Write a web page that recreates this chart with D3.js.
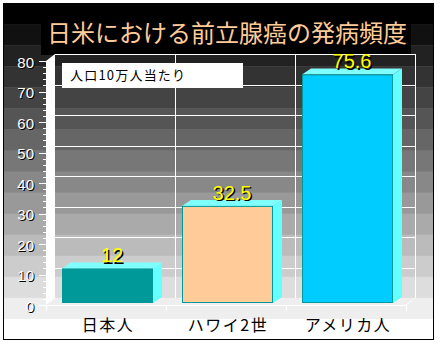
<!DOCTYPE html>
<html><head><meta charset="utf-8">
<script src="https://cdn.jsdelivr.net/npm/d3@7"></script>
<style>body{margin:0;background:#fff}svg{display:block}</style>
</head><body>
<script>
const title = "日米における前立腺癌の発病頻度";
const note = "人口10万人当たり";
const categories = ["日本人", "ハワイ2世", "アメリカ人"];
const values = [12, 32.5, 75.6];
const valueLabels = ["12", "32.5", "75.6"];
const barColors = ["#009999", "#FFCC99", "#00CCFF"];
const yTicks = [0, 10, 20, 30, 40, 50, 60, 70, 80];

const W = 446, H = 353;
const svg = d3.select("body").append("svg").attr("width", W).attr("height", H);

// background bands
const bands = d3.range(16);
const bandY = d3.scaleLinear().domain([0, 16]).range([3, 340]);
svg.selectAll("rect.band").data(bands).join("rect")
  .attr("x", 3).attr("width", 431)
  .attr("y", d => bandY(d)).attr("height", d => bandY(d + 1) - bandY(d) + 0.5)
  .attr("fill", d => d3.rgb(d * 17, d * 17, d * 17));

const x = d3.scaleBand().domain(categories).range([46, 406]).padding(0);
const y = d3.scaleLinear().domain([0, 80]).range([305, 61]);
const wdx = 9, wdy = -7;   // wall depth
const bdx = 9, bdy = -6;   // bar depth

// title box
svg.append("rect").attr("x", 41).attr("y", 24).attr("width", 370).attr("height", 31).attr("fill", "#000");
svg.append("text").attr("x", 227).attr("y", 42).attr("text-anchor", "middle")
  .attr("font-family", "'Noto Sans CJK JP'").attr("font-size", 24).attr("fill", "#FFCC99").text(title);

// back wall grid
const g = svg.append("g").attr("stroke", "#fff").attr("stroke-width", 1).attr("shape-rendering", "crispEdges");
const backL = 46 + wdx, backR = 406 + wdx;
g.selectAll("line.hg").data(yTicks.filter(d => d > 0)).join("line")
  .attr("x1", backL).attr("x2", backR)
  .attr("y1", d => Math.round(y(d) + wdy) + 0.5).attr("y2", d => Math.round(y(d) + wdy) + 0.5);
g.selectAll("line.vg").data(categories.slice(1)).join("line")
  .attr("x1", d => x(d) + wdx + 0.5).attr("x2", d => x(d) + wdx + 0.5)
  .attr("y1", y(80) + wdy).attr("y2", y(0) + wdy);
g.append("line").attr("x1", backR + 0.5).attr("x2", backR + 0.5).attr("y1", y(80) + wdy).attr("y2", y(0) + wdy);

// left wall
svg.append("polygon").attr("fill", "#fff")
  .attr("points", [[46, y(80)], [46 + wdx, y(80) + wdy], [46 + wdx, y(0) + wdy], [46, y(0)]].map(p => p.join(",")).join(" "));

// floor lines
const f = svg.append("g").attr("stroke", "#fff").attr("fill", "none");
f.append("line").attr("x1", 46).attr("x2", 406).attr("y1", y(0) + 0.5).attr("y2", y(0) + 0.5).attr("shape-rendering", "crispEdges");
f.append("line").attr("x1", 406).attr("x2", 406 + wdx).attr("y1", y(0)).attr("y2", y(0) + wdy);
f.selectAll("line.ft").data([46, 166, 286, 406]).join("line").attr("shape-rendering", "crispEdges")
  .attr("x1", d => d + 0.5).attr("x2", d => d + 0.5).attr("y1", y(0)).attr("y2", y(0) + 6);

// bars
const bw = 91, off = 16;
const bars = svg.selectAll("g.bar").data(values).join("g");
bars.each(function (v, i) {
  const gg = d3.select(this);
  const x0 = x(categories[i]) + off, x1 = x0 + bw;
  const yt = y(v), yb = y(0) - 2;
  gg.append("polygon").attr("fill", "#66FFFF")
    .attr("points", [[x1, yt], [x1 + bdx, yt + bdy], [x1 + bdx, yb + bdy], [x1, yb]].map(p => p.join(",")).join(" "));
  gg.append("polygon").attr("fill", "#80FFFF")
    .attr("points", [[x0, yt], [x0 + bdx, yt + bdy], [x1 + bdx, yt + bdy], [x1, yt]].map(p => p.join(",")).join(" "));
  gg.append("rect").attr("x", x0 + 0.5).attr("y", yt + 0.5).attr("width", bw - 1).attr("height", yb - yt - 1)
    .attr("fill", barColors[i]).attr("stroke", "#009999").attr("stroke-width", 1);
  const cx = x0 + (bw + bdx) / 2;
  gg.append("text").attr("x", cx + 1.5).attr("y", yt + bdy + 1.5).attr("text-anchor", "middle")
    .attr("font-family", "'Liberation Sans'").attr("font-size", 20).attr("fill", "#000").text(valueLabels[i]);
  gg.append("text").attr("x", cx).attr("y", yt + bdy).attr("text-anchor", "middle")
    .attr("font-family", "'Liberation Sans'").attr("font-size", 20).attr("fill", "#FFFF00").text(valueLabels[i]);
});

// note box
svg.append("rect").attr("x", 62).attr("y", 63).attr("width", 181).attr("height", 25).attr("fill", "#fff");
svg.append("text").attr("x", 70).attr("y", 80).attr("font-family", "'Noto Sans CJK JP'").attr("font-size", 13)
  .attr("letter-spacing", 1.2).attr("fill", "#000").text(note);

// y axis ticks
const t = svg.append("g").attr("stroke", "#fff").attr("shape-rendering", "crispEdges");
t.selectAll("line.minor").data(d3.range(0, 81, 2)).join("line")
  .attr("x1", d => d % 10 === 0 ? 39 : 43).attr("x2", 46)
  .attr("y1", d => Math.round(y(d)) + 0.5).attr("y2", d => Math.round(y(d)) + 0.5);
const lab = svg.append("g").attr("font-family", "'Liberation Sans'").attr("font-size", 15).attr("text-anchor", "end");
lab.selectAll("text.s").data(yTicks).join("text").attr("x", 35).attr("y", d => y(d) + 7.5).attr("fill", "#000").text(d => d);
lab.selectAll("text.f").data(yTicks).join("text").attr("x", 34).attr("y", d => y(d) + 6.5).attr("fill", "#fff").text(d => d);

// x labels
svg.append("g").selectAll("text").data(categories).join("text")
  .attr("x", d => x(d) + x.bandwidth() / 2 + 2).attr("y", 331).attr("text-anchor", "middle")
  .attr("font-family", "'Noto Sans CJK JP'").attr("font-size", 16).attr("letter-spacing", 1.5)
  .attr("fill", "#000").text(d => d);

// frame
svg.append("rect").attr("x", 3.5).attr("y", 3.5).attr("width", 430).attr("height", 336)
  .attr("fill", "none").attr("stroke", "#000");
</script>
</body></html>
